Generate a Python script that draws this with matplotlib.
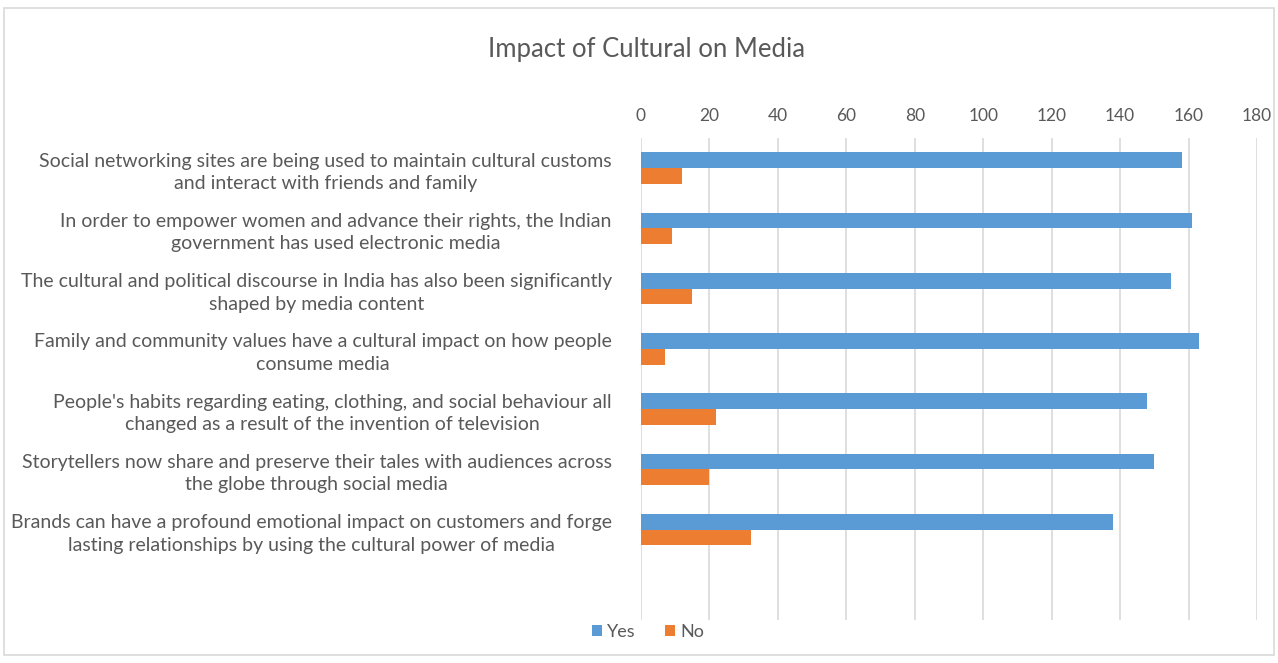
import numpy as np
import matplotlib.pyplot as plt
from matplotlib.patches import Rectangle

# ---------- Data ----------
categories = [
    "Social networking sites are being used to maintain cultural customs\nand interact with friends and family",
    "In order to empower women and advance their rights, the Indian\ngovernment has used electronic media",
    "The cultural and political discourse in India has also been significantly\nshaped by media content",
    "Family and community values have a cultural impact on how people\nconsume media",
    "People's habits regarding eating, clothing, and social behaviour all\nchanged as a result of the invention of television",
    "Storytellers now share and preserve their tales with audiences across\nthe globe through social media",
    "Brands can have a profound emotional impact on customers and forge\nlasting relationships by using the cultural power of media",
]
yes_values = [158, 161, 155, 163, 148, 150, 138]
no_values = [12, 9, 15, 7, 22, 20, 32]
x_ticks = [0, 20, 40, 60, 80, 100, 120, 140, 160, 180]

BLUE = "#5B9BD5"
ORANGE = "#ED7D31"
TEXT = "#595959"

plt.rcParams["font.family"] = ["Lato", "DejaVu Sans"]

fig = plt.figure(figsize=(12.78, 6.63), dpi=100)
ax = fig.add_axes([641 / 1278, 1 - 620 / 663, (1257 - 641) / 1278, (620 - 138) / 663])

# light frame around the whole chart, like the Excel chart area
fig.patches.append(Rectangle((4 / 1278, 8 / 663), 1270 / 1278, 647 / 663,
                             transform=fig.transFigure, fill=False,
                             edgecolor="#d9d9d9", linewidth=1.2))

y = np.arange(len(categories))
h = 0.26
ax.barh(y - h / 2, yes_values, height=h, color=BLUE, label="Yes", zorder=3)
ax.barh(y + h / 2, no_values, height=h, color=ORANGE, label="No", zorder=3)

ax.set_xlim(0, 180)
ax.set_xticks(x_ticks)
ax.set_ylim(len(categories) + 0.5, -0.5)
ax.set_yticks(y)
ax.set_yticklabels(categories, fontsize=14, color=TEXT, ha="right",
                   multialignment="center", linespacing=1.4)
ax.xaxis.tick_top()
ax.tick_params(axis="x", length=0, labelsize=12.5, labelcolor=TEXT, pad=10)
ax.tick_params(axis="y", length=0, pad=21)
ax.grid(axis="x", color="#d9d9d9", linewidth=1.2, zorder=0)
for s in ax.spines.values():
    s.set_visible(False)

fig.text(647 / 1278, 1 - 50 / 663, "Impact of Cultural on Media", ha="center",
         va="center", fontsize=18.5, color=TEXT)

fig.legend(loc="center", bbox_to_anchor=(648 / 1278, 1 - 632 / 663), ncol=2,
           frameon=False, fontsize=13, labelcolor=TEXT, handlelength=0.55,
           handleheight=0.55, handletextpad=0.3, columnspacing=1.6)

fig.savefig("out.png", dpi=100)
